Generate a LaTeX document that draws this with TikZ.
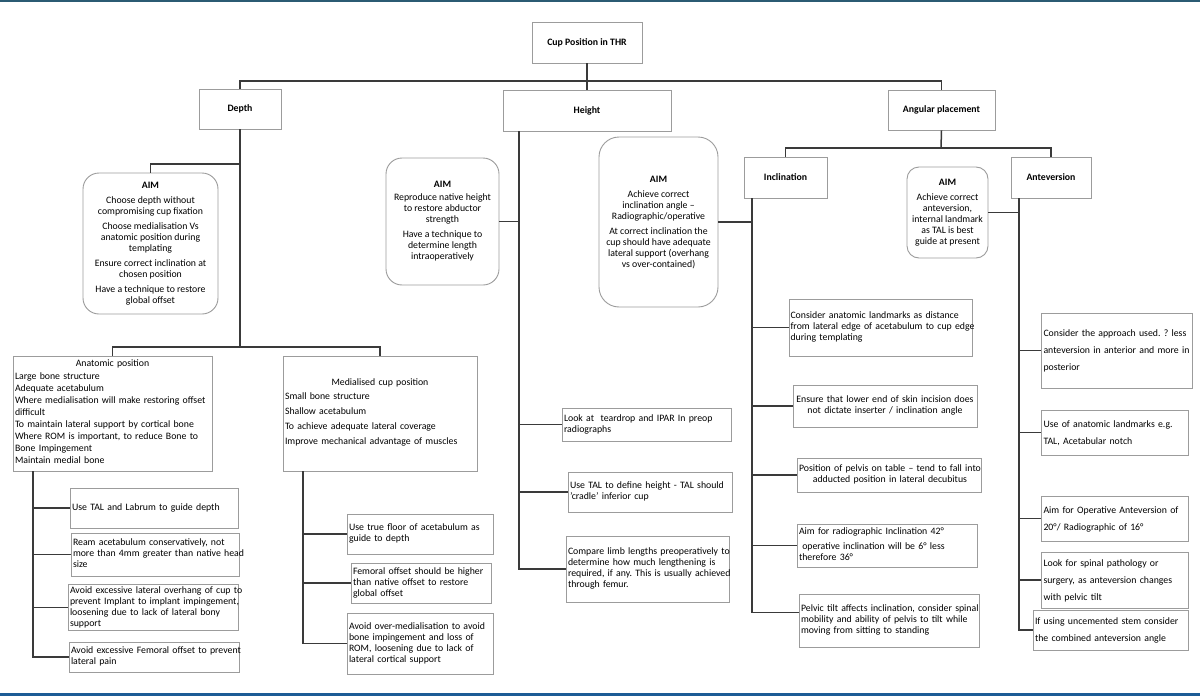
\documentclass[tikz,border=0pt]{standalone}
\usepackage{fontspec}
\setmainfont{Carlito}
\frenchspacing
\newcommand\myfs{\fontsize{9.8}{11}\selectfont}
\newcommand\LeftLines[1]{\begin{tabular}{@{}l@{}}#1\end{tabular}}
\newcommand\MidLines[1]{\begin{tabular}{@{}c@{}}#1\end{tabular}}
\definecolor{bgray}{HTML}{9C9C9C}
\definecolor{lgray}{HTML}{3A3A3A}
\definecolor{topc}{HTML}{2B5B73}
\definecolor{botc}{HTML}{1D5C96}
\begin{document}
\begin{tikzpicture}[x=1pt,y=-1pt,
  box/.style={draw=bgray, line width=0.8pt, inner xsep=1.5pt, inner ysep=1pt, font=\myfs, align=left},
  cbox/.style={box, align=center},
  title/.style={draw=bgray, line width=0.8pt, font=\myfs\bfseries, align=center},
  aim/.style={draw=bgray, line width=0.9pt, rounded corners=13pt, font=\myfs, align=center, inner sep=1pt},
  conn/.style={draw=lgray, line width=1.5pt},
]
\useasboundingbox (0,0) rectangle (1200,696);
\fill[white] (0,0) rectangle (1200,696);
\fill[topc] (0,0) rectangle (1200,2);
\fill[botc] (0,693) rectangle (1200,696);

% level titles
\node[title, minimum width=110pt, minimum height=41pt] (root) at (587,42.5) {Cup Position in THR};
\node[title, minimum width=82pt, minimum height=40pt] (depth) at (240,109) {Depth};
\node[title, minimum width=168pt, minimum height=41pt] (height) at (587,110.5) {Height};
\node[title, minimum width=107pt, minimum height=40pt] (ang) at (941.5,110) {Angular placement};
\node[title, minimum width=83pt, minimum height=41pt] (incl) at (785.5,177.5) {Inclination};
\node[title, minimum width=80pt, minimum height=41pt] (antev) at (1051,177.5) {Anteversion};

% AIM boxes
\node[aim, minimum width=135pt, minimum height=141pt, rounded corners=16pt] (aimD) at (150.5,243.5)
  {\textbf{AIM}\\[4pt]Choose depth without\\compromising cup fixation\\[4pt]Choose medialisation Vs\\anatomic position during\\templating\\[4pt]Ensure correct inclination at\\chosen position\\[4pt]Have a technique to restore\\global offset};
\node[aim, minimum width=113pt, minimum height=127pt, rounded corners=16pt] (aimH) at (442.5,221.5)
  {\textbf{AIM}\\[2pt]Reproduce native height\\to restore abductor\\strength\\[4pt]Have a technique to\\determine length\\intraoperatively};
\node[aim, minimum width=119pt, minimum height=170pt, rounded corners=20pt] (aimI) at (658.5,222)
  {\textbf{AIM}\\[4pt]Achieve correct\\inclination angle --\\Radiographic/operative\\[4pt]At correct inclination the\\cup should have adequate\\lateral support (overhang\\vs over-contained)};
\node[aim, minimum width=81pt, minimum height=91pt, rounded corners=12pt] (aimA) at (947.5,212.5)
  {\textbf{AIM}\\[4pt]Achieve correct\\anteversion,\\internal landmark\\as TAL is best\\guide at present};

% Depth branches
\node[box, minimum width=199pt, minimum height=115pt, text width=195pt, font=\fontsize{9.8}{12}\selectfont] (anat) at (112.5,413.5)
  {\centering Anatomic position\par\vspace{2pt}\raggedright\LeftLines{Large bone structure\\Adequate acetabulum\\Where medialisation will make restoring offset\\difficult\\To maintain lateral support by cortical bone\\Where ROM is important, to reduce Bone to\\Bone Impingement\\Maintain medial bone}};
\node[box, minimum width=194pt, minimum height=115pt, text width=190pt] (med) at (380,413.5)
  {\centering Medialised cup position\par\vspace{4pt}\raggedright\LeftLines{Small bone structure\\[4pt]Shallow acetabulum\\[4pt]To achieve adequate lateral coverage\\[4pt]Improve mechanical advantage of muscles}};

\node[box, minimum width=168pt, minimum height=40pt, text width=164pt] (ab1) at (154,508) {\LeftLines{Use TAL and Labrum to guide depth}};
\node[box, minimum width=168pt, minimum height=43pt, text width=164pt] (ab2) at (155,554.5) {\LeftLines{Ream acetabulum conservatively, not\\more than 4mm greater than native head\\size}};
\node[box, minimum width=170pt, minimum height=45pt, text width=166pt] (ab3) at (153,607.5) {\LeftLines{Avoid excessive lateral overhang of cup to\\prevent Implant to implant impingement,\\loosening due to lack of lateral bony\\support}};
\node[box, minimum width=170pt, minimum height=30pt, text width=166pt] (ab4) at (154,657) {\LeftLines{Avoid excessive Femoral offset to prevent\\lateral pain}};

\node[box, minimum width=146pt, minimum height=40pt, text width=142pt] (mb1) at (420,534) {\LeftLines{Use true floor of acetabulum as\\guide to depth}};
\node[box, minimum width=140pt, minimum height=40pt, text width=136pt] (mb2) at (421,583) {\LeftLines{Femoral offset should be higher\\than native offset to restore\\global offset}};
\node[box, minimum width=146pt, minimum height=61pt, text width=142pt] (mb3) at (420,643.5) {\LeftLines{Avoid over-medialisation to avoid\\bone impingement and loss of\\ROM, loosening due to lack of\\lateral cortical support}};

% Height branches
\node[box, minimum width=169pt, minimum height=33pt, text width=165pt] (hb1) at (646.5,424.5) {\LeftLines{Look at\ \ teardrop and IPAR In preop\\radiographs}};
\node[box, minimum width=164pt, minimum height=40pt, text width=160pt] (hb2) at (650,492) {\LeftLines{Use TAL to define height - TAL should\\'cradle' inferior cup}};
\node[box, minimum width=163pt, minimum height=66pt, text width=159pt] (hb3) at (647.5,569) {\LeftLines{Compare limb lengths preoperatively to\\determine how much lengthening is\\required, if any. This is usually achieved\\through femur.}};

% Inclination branches
\node[box, minimum width=183pt, minimum height=57pt, text width=180pt, inner xsep=1pt] (ib1) at (880.5,327.5) {\LeftLines{Consider anatomic landmarks as distance\\from lateral edge of acetabulum to cup edge\\during templating}};
\node[cbox, minimum width=184pt, minimum height=42pt, text width=180pt] (ib2) at (885,406) {\MidLines{Ensure that lower end of skin incision does\\not dictate inserter / inclination angle}};
\node[cbox, minimum width=184pt, minimum height=34pt, text width=180pt] (ib3) at (889,475) {\MidLines{Position of pelvis on table -- tend to fall into\\adducted position in lateral decubitus}};
\node[box, minimum width=180pt, minimum height=43pt, text width=176pt] (ib4) at (887,545.5) {\LeftLines{Aim for radiographic Inclination 42°\\[4pt]\ operative inclination will be 6° less\\therefore 36°}};
\node[box, minimum width=180pt, minimum height=53pt, text width=176pt] (ib5) at (889,620.5) {\LeftLines{Pelvic tilt affects inclination, consider spinal\\mobility and ability of pelvis to tilt while\\moving from sitting to standing}};

% Anteversion branches
\node[box, minimum width=151pt, minimum height=75pt, text width=146pt, inner xsep=2.5pt, font=\fontsize{9.8}{17}\selectfont] (vb1) at (1116.5,350.5) {\LeftLines{Consider the approach used. ? less\\anteversion in anterior and more in\\posterior}};
\node[box, minimum width=147pt, minimum height=45pt, text width=142pt, inner xsep=2.5pt, font=\fontsize{9.8}{17}\selectfont] (vb2) at (1114.5,432.5) {\LeftLines{Use of anatomic landmarks e.g.\\TAL, Acetabular notch}};
\node[box, minimum width=147pt, minimum height=45pt, text width=142pt, inner xsep=2.5pt, font=\fontsize{9.8}{17}\selectfont] (vb3) at (1114.5,518.5) {\LeftLines{Aim for Operative Anteversion of\\20°/ Radiographic of 16°}};
\node[box, minimum width=147pt, minimum height=56pt, text width=142pt, inner xsep=2.5pt, font=\fontsize{9.8}{17}\selectfont] (vb4) at (1114.5,580) {\LeftLines{Look for spinal pathology or\\surgery, as anteversion changes\\with pelvic tilt}};
\node[box, minimum width=155pt, minimum height=40pt, text width=151pt, font=\fontsize{9.8}{17}\selectfont] (vb5) at (1110.5,630) {\LeftLines{If using uncemented stem consider\\the combined anteversion angle}};

% connectors: top level
\coordinate (tj) at (587,81);
\draw[conn] (root.south) -- (height.north);
\draw[conn] (depth.north) |- (tj) -| (ang.north);

% depth
\coordinate (dj1) at (240,164);
\coordinate (dj2) at (240,347);
\draw[conn] (depth.south) -- (dj2);
\draw[conn] (dj1) -| (aimD.north);
\draw[conn] (anat.north) |- (dj2) -| (med.north);

\coordinate (as) at (33,471);
\draw[conn] (as) |- (ab1.west);
\draw[conn] (as) |- (ab2.west);
\draw[conn] (as) |- (ab3.west);
\draw[conn] (as) |- (ab4.west);

\coordinate (ms) at (303,471);
\draw[conn] (ms) |- (mb1.west);
\draw[conn] (ms) |- (mb2.west);
\draw[conn] (ms) |- (mb3.west);

% height
\coordinate (hs) at (519,131);
\draw[conn] (aimH.east) -- (aimH.east -| hs);
\draw[conn] (hs) |- (hb1.west);
\draw[conn] (hs) |- (hb2.west);
\draw[conn] (hs) |- (hb3.west);

% angular
\coordinate (aj) at (941,148);
\draw[conn] (ang.south) -- (aj);
\draw[conn] (incl.north) |- (aj) -| (antev.north);

\coordinate (is) at (752,198);
\draw[conn] (aimI.east) -- (aimI.east -| is);
\draw[conn] (is) |- (ib1.west);
\draw[conn] (is) |- (ib2.west);
\draw[conn] (is) |- (ib3.west);
\draw[conn] (is) |- (ib4.west);
\draw[conn] (is) |- ([yshift=8pt]ib5.west);

\coordinate (vs) at (1019,198);
\draw[conn] (aimA.east) -- (aimA.east -| vs);
\draw[conn] (vs) |- (vb1.west);
\draw[conn] (vs) |- (vb2.west);
\draw[conn] (vs) |- (vb3.west);
\draw[conn] (vs) |- (vb4.west);
\draw[conn] (vs) |- (vb5.west);
\end{tikzpicture}
\end{document}
